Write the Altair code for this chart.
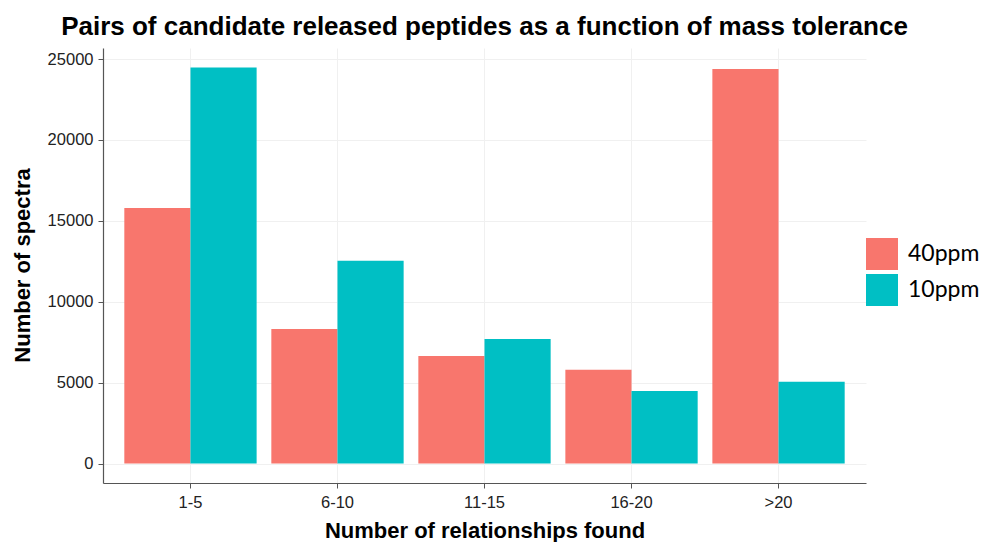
import altair as alt
import pandas as pd

categories = ["1-5", "6-10", "11-15", "16-20", ">20"]
series_names = ["40ppm", "10ppm"]
ppm40 = [15800, 8320, 6650, 5800, 24380]
ppm10 = [24480, 12540, 7700, 4490, 5050]
y_ticks = [0, 5000, 10000, 15000, 20000, 25000]
colors = ["#F8766D", "#00BFC4"]

rows = []
for c, a, b in zip(categories, ppm40, ppm10):
    rows.append({"cat": c, "series": "40ppm", "value": a})
    rows.append({"cat": c, "series": "10ppm", "value": b})
df = pd.DataFrame(rows)

chart = (
    alt.Chart(df)
    .mark_bar(stroke=None)
    .encode(
        x=alt.X(
            "cat:N",
            sort=categories,
            title="Number of relationships found",
            scale=alt.Scale(paddingInner=0.1, paddingOuter=0.145),
            axis=alt.Axis(
                labelAngle=0,
                labelFont="Liberation Sans",
                labelFontSize=16.5,
                labelColor="#222222",
                labelPadding=6,
                tickSize=5,
                tickColor="#555555",
                domainColor="#555555",
                domainWidth=1.2,
                grid=True,
                gridColor="#f0f0f0",
                titleFont="Liberation Sans",
                titleFontSize=22,
                titleFontWeight="bold",
                titleColor="#000000",
                titleBaseline="alphabetic",
                titleY=54,
            ),
        ),
        xOffset=alt.XOffset("series:N", sort=series_names),
        y=alt.Y(
            "value:Q",
            title="Number of spectra",
            scale=alt.Scale(domain=[-1200, 25680], nice=False, zero=False),
            axis=alt.Axis(
                values=y_ticks,
                format="d",
                labelFont="Liberation Sans",
                labelFontSize=16.5,
                labelColor="#222222",
                labelPadding=5,
                tickSize=5,
                tickColor="#555555",
                domainColor="#555555",
                domainWidth=1.2,
                grid=True,
                gridColor="#f0f0f0",
                titleFont="Liberation Sans",
                titleFontSize=22,
                titleFontWeight="bold",
                titleColor="#000000",
                titleAngle=-90,
                titleBaseline="alphabetic",
                titleAlign="center",
                titleX=-74,
                titleY=217,
            ),
        ),
        color=alt.Color(
            "series:N",
            sort=series_names,
            scale=alt.Scale(domain=series_names, range=colors),
            legend=alt.Legend(
                title=None,
                orient="none",
                legendX=763,
                legendY=190,
                symbolType="square",
                symbolSize=1024,
                symbolStrokeWidth=0,
                symbolOpacity=1,
                labelFont="Lato",
                labelFontSize=23,
                labelColor="#000000",
                labelOffset=10,
                rowPadding=4,
            ),
        ),
    )
    .properties(
        width=763,
        height=435,
        background="white",
        title=alt.TitleParams(
            "Pairs of candidate released peptides as a function of mass tolerance",
            font="Liberation Sans",
            fontSize=26,
            fontWeight="bold",
            color="#000000",
            anchor="middle",
            baseline="alphabetic",
            offset=15,
            dy=28,
        ),
        autosize=alt.AutoSizeParams(type="none"),
        padding={"left": 103, "top": 48, "right": 119, "bottom": 59},
    )
    .configure_view(stroke=None)
)

chart.save("out.html", embed_options={"renderer": "svg", "actions": False})
